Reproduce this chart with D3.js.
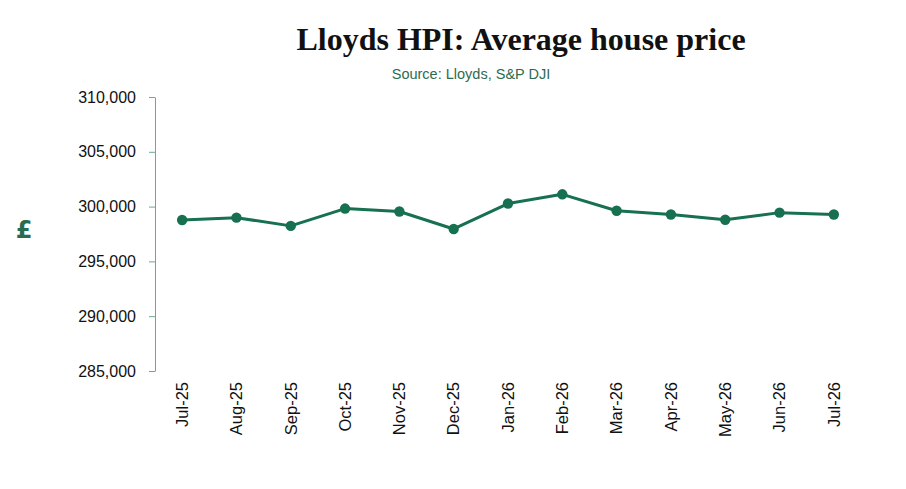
<!DOCTYPE html>
<html><head><meta charset="utf-8">
<script src="https://cdn.jsdelivr.net/npm/d3@7"></script>
<style>body{margin:0;background:#fff}</style>
</head><body>
<svg id="c" width="906" height="489"></svg>
<script>
const categories = ["Jul-25","Aug-25","Sep-25","Oct-25","Nov-25","Dec-25","Jan-26","Feb-26","Mar-26","Apr-26","May-26","Jun-26","Jul-26"];
const prices = [298780, 298990, 298240, 299820, 299550, 297960, 300280, 301120, 299620, 299280, 298800, 299450, 299280];
const yTicks = [285000, 290000, 295000, 300000, 305000, 310000];

const green = "#17704f";
const svg = d3.select("#c");
const m = {left:155, right:861, top:97, bottom:371};

const x = d3.scaleBand().domain(categories).range([m.left, m.right]);
const y = d3.scaleLinear().domain([285000, 310000]).range([m.bottom, m.top]);

svg.append("text").attr("x", 521).attr("y", 50).attr("text-anchor","middle")
  .attr("font-family","'Liberation Serif', serif").attr("font-weight","bold")
  .attr("font-size", 32).attr("fill","#111").text("Lloyds HPI: Average house price");
svg.append("text").attr("x", 471).attr("y", 79).attr("text-anchor","middle")
  .attr("font-family","'Liberation Sans', Arial, sans-serif")
  .attr("font-size", 14.5).attr("fill","#2f6b4f").text("Source: Lloyds, S&P DJI");

const ya = svg.append("g").attr("transform",`translate(${m.left},0)`)
  .call(d3.axisLeft(y).tickValues(yTicks).tickFormat(d3.format(",")).tickSize(6).tickSizeOuter(0).tickPadding(13));
ya.select(".domain").attr("stroke","#6aaa90");
ya.selectAll(".tick line").attr("stroke","#6aaa90");
ya.selectAll("text").attr("font-family","'Liberation Sans', Arial, sans-serif").attr("font-size",16).attr("fill","#111");

svg.append("text").attr("x", 24).attr("y", 238).attr("text-anchor","middle")
  .attr("font-family","'DejaVu Sans', sans-serif").attr("font-weight","bold")
  .attr("font-size", 24).attr("fill","#2a6a50").text("£");

const xa = svg.append("g").attr("transform",`translate(0,${m.bottom})`)
  .call(d3.axisBottom(x).tickSize(0).tickPadding(0));
xa.select(".domain").remove();
xa.selectAll("text").attr("font-family","'Liberation Sans', Arial, sans-serif").attr("font-size",16.5).attr("fill","#111")
  .attr("text-anchor","end").attr("dy","0.35em")
  .attr("transform","translate(0,11) rotate(-90)");

const line = d3.line().x((d,i)=>x(categories[i])+x.bandwidth()/2).y(d=>y(d));
svg.append("path").datum(prices).attr("d", line).attr("fill","none")
  .attr("stroke", green).attr("stroke-width", 3).attr("stroke-linejoin","round");
svg.selectAll("circle.p").data(prices).enter().append("circle").attr("class","p")
  .attr("cx",(d,i)=>x(categories[i])+x.bandwidth()/2).attr("cy",d=>y(d)).attr("r",5.2).attr("fill",green);
</script>
</body></html>
